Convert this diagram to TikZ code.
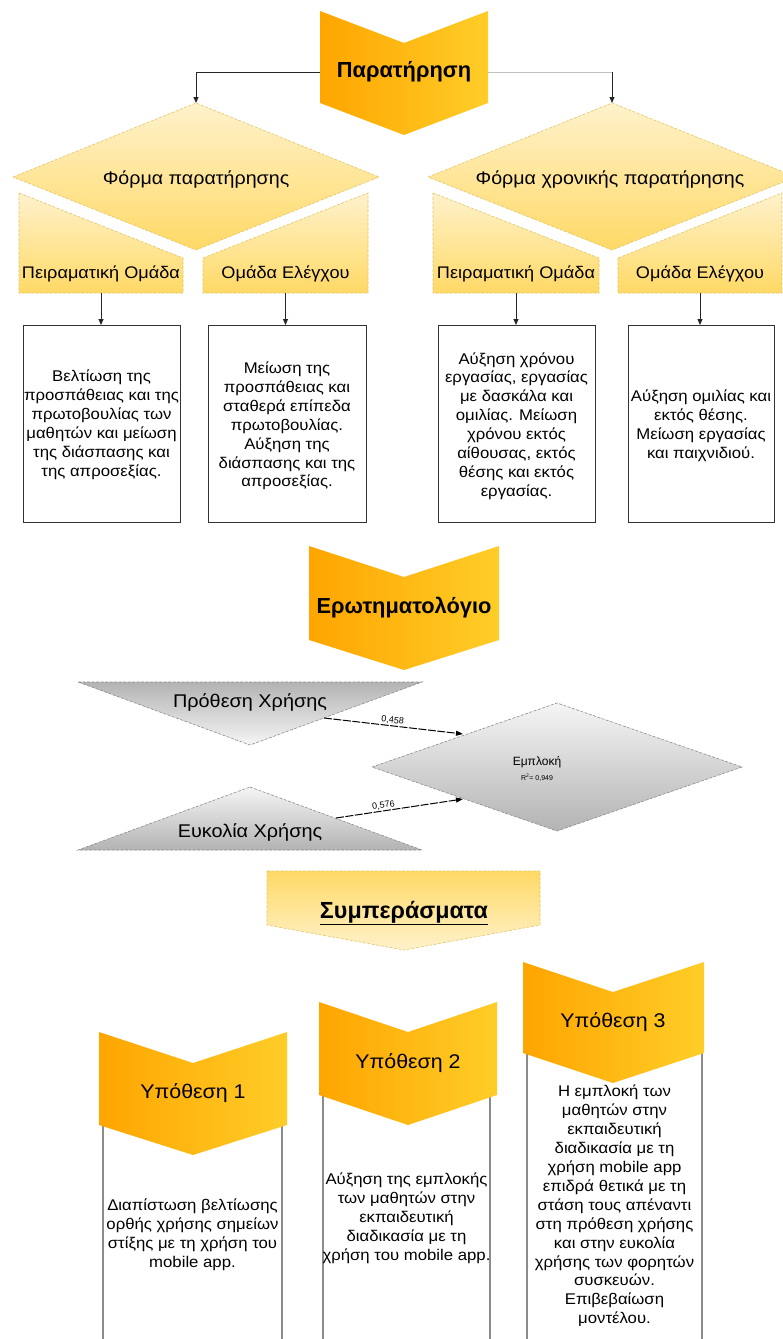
\documentclass[tikz,border=0pt]{standalone}
\usepackage{fontspec}
\setmainfont{Liberation Sans}
\newfontfamily\wsans[FakeStretch=1.08]{Liberation Sans}
\usetikzlibrary{arrows.meta}
\definecolor{orA}{HTML}{FFA500}
\definecolor{orB}{HTML}{FFCD28}
\definecolor{yLt}{HTML}{FFF2CC}
\definecolor{yDk}{HTML}{FFD966}
\definecolor{yStroke}{HTML}{E3C766}
\definecolor{gLt}{HTML}{F5F5F5}
\definecolor{gDk}{HTML}{B3B3B3}
\definecolor{gStroke}{HTML}{8C8C8C}
\begin{document}
\begin{tikzpicture}[x=1pt,y=-1pt,
  chev/.style={left color=orA, right color=orB},
  yshape/.style={top color=yLt, bottom color=yDk, draw=yStroke, line width=0.6pt, dash pattern=on 3pt off 1.5pt},
  yshapeinv/.style={top color=yDk, bottom color=yLt, draw=yStroke, line width=0.6pt, dash pattern=on 3pt off 1.5pt},
  gshape/.style={top color=gLt, bottom color=gDk, draw=gStroke, line width=0.6pt, dash pattern=on 3pt off 1.5pt},
  gshapeinv/.style={top color=gDk, bottom color=gLt, draw=gStroke, line width=0.6pt, dash pattern=on 3pt off 1.5pt},
  title/.style={font=\bfseries\fontsize{21.8}{25}\selectfont, inner sep=0pt},
  hyp/.style={font=\wsans\fontsize{19.8}{23}\selectfont, inner sep=0pt},
  lab/.style={font=\wsans\fontsize{18.2}{22}\selectfont, inner sep=0pt},
  glab/.style={font=\wsans\fontsize{18.4}{21}\selectfont, inner sep=0pt},
  tlab/.style={font=\wsans\fontsize{16.8}{20}\selectfont, inner sep=0pt},
  boxtxt/.style={font=\wsans\fontsize{15.5}{18.9}\selectfont, align=center, inner sep=0pt},
  obox/.style={draw=black!80, line width=0.9pt, fill=white},
  hbox/.style={draw=black!45, line width=1.2pt, fill=white},
  arr/.style={-{Triangle[length=6pt,width=5pt]}, line width=0.8pt, draw=black!85},
  garr/.style={-{Triangle[length=7pt,width=5pt]}, line width=1pt, draw=black, dash pattern=on 8pt off 1.5pt},
  num/.style={font=\fontsize{9}{10}\selectfont, inner sep=1pt}
]
\useasboundingbox (0,0) rectangle (783,1339);
\fill[white] (0,0) rectangle (783,1339);

% ---------- top chevron ----------
\path[chev] (320,11) -- (404,43) -- (488,11) -- (488,103) -- (404,135) -- (320,103) -- cycle;
\node[title] (obs) at (404,72) {Παρατήρηση};
\coordinate (obsW) at (320,72);
\coordinate (obsE) at (488,72);
\coordinate (cornR) at (612,72);

% ---------- diamonds ----------
\path[yshape] (13,177) -- (196,103) -- (379,177) -- (196,250) -- cycle;
\node[lab] (form1) at (196,180) {Φόρμα παρατήρησης};
\coordinate (d1top) at (196,103);
\path[yshape] (428,177) -- (612,103) -- (796,177) -- (612,250) -- cycle;
\node[lab] (form2) at (610,180) {Φόρμα χρονικής παρατήρησης};
\coordinate (d2top) at (612,103);

\draw[arr] (obsW) -| (d1top);
\draw[line width=0.8pt, draw=black!25] (obsE) -- (cornR);
\draw[arr] (cornR) -- (d2top);

% ---------- trapezoids ----------
\path[yshape] (19,193) -- (183,258) -- (183,293) -- (19,293) -- cycle;
\path[yshape] (203,258) -- (368,193) -- (368,293) -- (203,293) -- cycle;
\path[yshape] (433,193) -- (599,258) -- (599,293) -- (433,293) -- cycle;
\path[yshape] (618,258) -- (782,193) -- (782,293) -- (618,293) -- cycle;
\node[tlab] (g1) at (101,274) {Πειραματική Ομάδα};
\node[tlab] (g2) at (285.5,274) {Ομάδα Ελέγχου};
\node[tlab] (g3) at (516,274) {Πειραματική Ομάδα};
\node[tlab] (g4) at (700,274) {Ομάδα Ελέγχου};
\coordinate (g1b) at (101,293);
\coordinate (g2b) at (285.5,293);
\coordinate (g3b) at (516,293);
\coordinate (g4b) at (700,293);

% ---------- result boxes ----------
\draw[obox] (23,325) rectangle (180,522);
\draw[obox] (208,325) rectangle (366,522);
\draw[obox] (438,325) rectangle (595,522);
\draw[obox] (628,325) rectangle (774,522);
\coordinate (b1t) at (101,325);
\coordinate (b2t) at (285.5,325);
\coordinate (b3t) at (516,325);
\coordinate (b4t) at (700,325);
\draw[arr] (g1b) -- (b1t);
\draw[arr] (g2b) -- (b2t);
\draw[arr] (g3b) -- (b3t);
\draw[arr] (g4b) -- (b4t);
\node[boxtxt] (r1) at (101.5,425) {Βελτίωση της\\προσπάθειας και της\\πρωτοβουλίας των\\μαθητών και μείωση\\της διάσπασης και\\της απροσεξίας.};
\node[boxtxt] (r2) at (287,426) {Μείωση της\\προσπάθειας και\\σταθερά επίπεδα\\πρωτοβουλίας.\\Αύξηση της\\διάσπασης και της\\απροσεξίας.};
\node[boxtxt] (r3) at (516.5,426) {Αύξηση χρόνου\\εργασίας, εργασίας\\με δασκάλα και\\ομιλίας. Μείωση\\χρόνου εκτός\\αίθουσας, εκτός\\θέσης και εκτός\\εργασίας.};
\node[boxtxt] (r4) at (701,426) {Αύξηση ομιλίας και\\εκτός θέσης.\\Μείωση εργασίας\\και παιχνιδιού.};

% ---------- questionnaire chevron ----------
\path[chev] (309,546) -- (404,577) -- (499,546) -- (499,640) -- (404,670) -- (309,640) -- cycle;
\node[title] (quest) at (404,608) {Ερωτηματολόγιο};

% ---------- gray model ----------
\path[gshapeinv] (78,682) -- (422,682) -- (250,745) -- cycle;
\node[glab] (pu) at (250,702) {Πρόθεση Χρήσης};
\path[gshape] (250,787) -- (422,850) -- (78,850) -- cycle;
\node[glab] (eu) at (250,832) {Ευκολία Χρήσης};
\path[gshape] (372,767) -- (557,703) -- (742,767) -- (557,831) -- cycle;
\node[font=\fontsize{12}{14}\selectfont, inner sep=0pt] (emp) at (537,762) {Εμπλοκή};
\node[font=\fontsize{7}{8}\selectfont, inner sep=0pt] (r2v) at (537,778) {R\textsuperscript{2}= 0,949};
\coordinate (puE) at (324,718);
\coordinate (empU) at (463,734);
\coordinate (euE) at (336,818);
\coordinate (empL) at (463,799);
\draw[garr] (puE) -- node[num, pos=0.49, above, sloped] (n1) {0,458} (empU);
\draw[garr] (euE) -- node[num, pos=0.38, above, sloped] (n2) {0,576} (empL);

% ---------- conclusions ----------
\path[yshapeinv] (267,871) -- (540,871) -- (540,925) -- (404,950) -- (267,925) -- cycle;
\node[font=\bfseries\fontsize{23.3}{26}\selectfont, inner sep=0pt] (conc) at (404,913) {\underline{Συμπεράσματα}};

% ---------- hypotheses ----------
\draw[hbox] (103,1100) rectangle (282,1350);
\draw[hbox] (323,1070) rectangle (490,1350);
\draw[hbox] (527,1025) rectangle (702,1350);

\path[chev] (99,1032) -- (193,1063) -- (287,1032) -- (287,1125) -- (193,1155) -- (99,1125) -- cycle;
\node[hyp] (h1) at (193,1093) {Υπόθεση 1};
\path[chev] (319,1002) -- (408,1032) -- (497,1002) -- (497,1095) -- (408,1125) -- (319,1095) -- cycle;
\node[hyp] (h2) at (408,1063) {Υπόθεση 2};
\path[chev] (523,962) -- (613,992) -- (704,962) -- (704,1053) -- (613,1083) -- (523,1053) -- cycle;
\node[hyp] (h3) at (613,1022) {Υπόθεση 3};

\node[boxtxt] (c1) at (192.5,1235) {Διαπίστωση βελτίωσης\\ορθής χρήσης σημείων\\στίξης με τη χρήση του\\mobile app.};
\node[boxtxt] (c2) at (406.5,1218) {Αύξηση της εμπλοκής\\των μαθητών στην\\εκπαιδευτική\\διαδικασία με τη\\χρήση του mobile app.};
\node[boxtxt] (c3) at (614.5,1206) {Η εμπλοκή των\\μαθητών στην\\εκπαιδευτική\\διαδικασία με τη\\χρήση mobile app\\επιδρά θετικά με τη\\στάση τους απέναντι\\στη πρόθεση χρήσης\\και στην ευκολία\\χρήσης των φορητών\\συσκευών.\\Επιβεβαίωση\\μοντέλου.};
\end{tikzpicture}
\end{document}
